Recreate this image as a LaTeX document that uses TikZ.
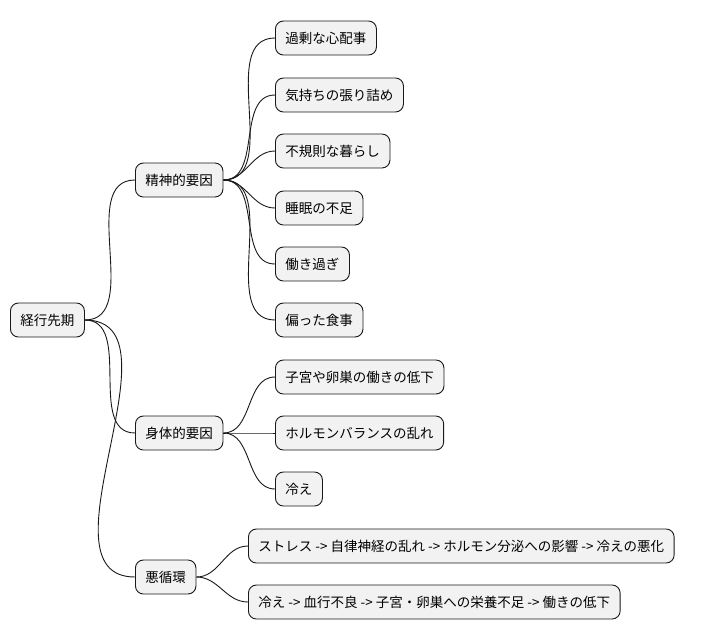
\documentclass[tikz,border=0pt]{standalone}
\usepackage{fontspec}
\newfontfamily\jp{Noto Sans CJK JP}
\begin{document}
\begin{tikzpicture}[x=1pt,y=-1pt,
  box/.style={draw=black!90,fill=black!5,rounded corners=8pt,line width=0.9pt,anchor=west,
    minimum height=34pt,inner xsep=10pt,font=\jp\fontsize{13.5}{16}\selectfont},
  ln/.style={draw=black!90,line width=0.9pt}]
\useasboundingbox (0,0) rectangle (720,640);
\node[box] (r) at (10,320) {経行先期};
\node[box] (a) at (135,180) {精神的要因};
\node[box] (b) at (135,433) {身体的要因};
\node[box] (c) at (135,577) {悪循環};
\node[box] (a1) at (275,38) {過剰な心配事};
\node[box] (a2) at (275,95) {気持ちの張り詰め};
\node[box] (a3) at (275,151) {不規則な暮らし};
\node[box] (a4) at (275,208) {睡眠の不足};
\node[box] (a5) at (275,264) {働き過ぎ};
\node[box] (a6) at (275,320) {偏った食事};
\node[box] (b1) at (275,377) {子宮や卵巣の働きの低下};
\node[box] (b2) at (275,433) {ホルモンバランスの乱れ};
\node[box] (b3) at (275,489) {冷え};
\node[box] (c1) at (248,546) {ストレス -> 自律神経の乱れ -> ホルモン分泌への影響 -> 冷えの悪化};
\node[box] (c2) at (248,602) {冷え -> 血行不良 -> 子宮・卵巣への栄養不足 -> 働きの低下};
\foreach \p/\k in {r/a,r/b,r/c,a/a1,a/a2,a/a3,a/a4,a/a5,a/a6,b/b1,b/b2,b/b3,c/c1,c/c2}
  \draw[ln] (\p.east) to[out=0,in=180] (\k.west);
\end{tikzpicture}
\end{document}
